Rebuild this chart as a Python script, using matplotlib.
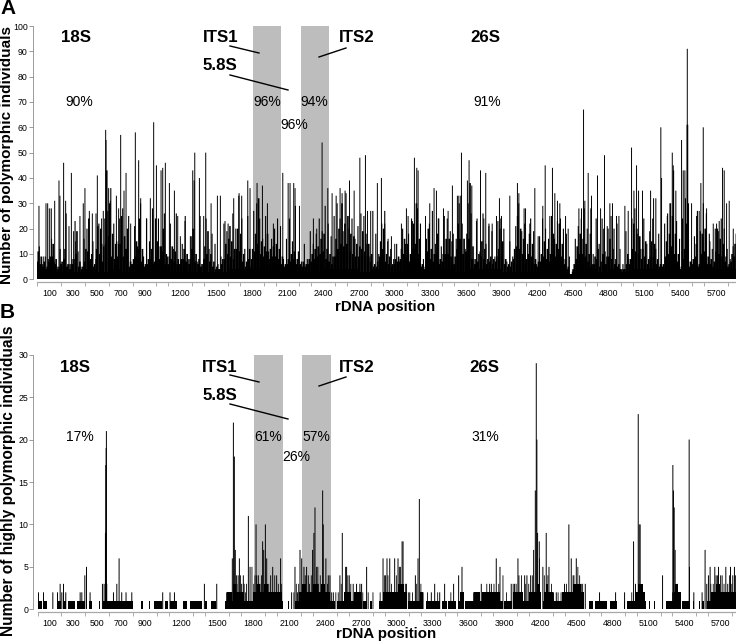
import matplotlib
matplotlib.use("Agg")
import matplotlib.pyplot as plt
import numpy as np
from matplotlib.lines import Line2D

plt.rcParams['font.family'] = ['Liberation Sans', 'DejaVu Sans']

W, H = 736, 643

# panel A : tall peaks
a_pos = [14,50,73,87,101,120,146,182,190,221,238,266,286,305,322,358,386,400,437,462,493,504,540,554,574,577,599,613,664,683,700,728,745,784,823,851,868,918,949,977,1000,1039,1053,1075,1109,1151,1179,1201,1240,1285,1305,1322,1361,1397,1414,1459,1512,1537,1576,1602,1618,1649,1694,1716,1767,1786,1845,1890,1932,1982,2061,2106,2122,2153,2164,2201,2318,2346,2391,2439,2475,2509,2542,2559,2584,2621,2660,2708,2755,2772,
         2799,2855,2889,2917,2945,2973,3001,3057,3099,3113,3149,3166,3186,3197,3259,3295,3331,3351,3371,3410,3449,3485,3527,3539,3561,3611,3625,3648,3687,3721,3749,3765,3791,3819,3855,3880,3897,3967,4031,4043,4087,4099,4135,4177,4205,4244,4264,4303,4325,4345,4367,4387,4435,4457,4547,4569,4586,4597,4625,4647,4653,4703,4729,4762,4785,4807,4829,4863,4883,4933,4961,4989,5009,5031,5048,5081,5149,5174,5193,5235,5241,5289,5311,5331,5339,5361,5409,5423,5437,5457,5459,5493,5535,5557,5571,5591,5619,5647,5675,5703,5725,5753,5767,5787,5809,5843]
a_val = [29,9,30,30,28,16,31,39,33,46,31,21,42,19,15,25,30,36,27,26,26,41,24,27,59,55,36,31,33,28,57,35,42,22,58,47,32,24,32,62,45,43,44,46,38,35,25,17,23,17,43,50,40,25,50,30,33,33,23,22,21,32,34,33,39,36,38,37,30,22,42,38,38,38,36,29,24,20,54,36,34,33,36,34,35,39,35,48,49,27,
         27,38,40,22,16,17,14,22,28,25,23,48,44,43,25,30,36,35,24,28,27,37,33,33,50,39,47,37,23,43,24,42,21,22,25,32,25,33,38,34,28,28,22,36,17,29,45,25,44,34,31,30,25,20,28,28,67,31,42,28,33,41,28,49,21,30,30,25,25,29,27,52,35,45,35,35,35,32,32,60,40,25,30,50,45,35,55,43,43,91,61,30,25,27,38,60,28,15,22,22,23,44,43,30,31,20]

# panel A : dense layers, one value per 25 positions
a_upper = [13,6,9,8,28,7,5,12,5,26,6,8,23,11,5,16,20,7,15,8,
           22,14,24,27,36,22,15,24,28,12,25,6,21,13,30,9,24,15,28,24,
           24,13,26,9,22,12,26,6,14,25,8,17,39,7,25,6,24,12,18,14,
           6,9,22,19,21,26,20,33,24,12,25,5,27,30,24,16,25,11,16,20,
           24,21,8,16,24,15,29,11,7,14,8,19,14,18,24,19,29,22,17,25,
           30,24,19,34,20,24,16,21,26,25,14,9,27,18,10,22,27,15,12,8,
           14,7,20,14,18,24,12,28,22,8,16,22,27,14,24,13,25,24,19,18,
           16,30,22,12,30,26,8,24,11,26,14,22,19,9,23,24,20,7,15,9,
           21,30,19,22,14,24,19,6,17,24,20,16,25,16,23,24,20,18,9,3,
           16,21,24,28,20,18,10,24,14,24,11,20,25,20,22,12,6,19,8,24,
           28,18,12,24,14,19,24,12,18,6,22,26,30,43,23,16,24,32,30,7,
           17,27,19,30,26,18,12,20,19,24,20,12,8,13,18]
a_mid = [11,9,7,5,9,14,8,5,7,12,6,6,8,19,7,5,12,24,10,6,
         21,20,13,43,30,18,14,14,25,17,20,7,8,15,24,12,6,8,12,7,
         15,13,20,10,9,13,11,8,8,12,10,8,20,10,8,6,13,19,10,7,
         5,4,8,14,16,15,12,20,18,10,7,12,12,18,32,15,13,18,12,13,
         14,12,9,6,8,10,11,8,6,7,6,8,10,12,13,16,18,12,10,9,
         16,20,30,22,25,18,17,14,13,19,18,14,10,6,7,15,20,10,9,6,
         8,9,12,16,14,10,22,30,16,6,5,20,12,10,18,8,10,16,16,15,
         9,22,33,16,18,38,13,8,10,15,12,8,9,8,9,20,15,8,6,7,
         12,25,20,16,8,18,14,8,7,10,15,12,10,18,14,22,14,8,5,1,
         6,13,18,16,14,10,6,9,12,7,20,9,16,12,8,6,4,4,10,8,
         22,20,17,12,15,8,15,14,8,6,6,15,18,25,18,10,5,12,61,7,
         8,14,6,18,20,9,8,7,20,16,14,9,6,10,14]
a_low = [7,6,5,4,7,9,6,4,6,8,5,4,6,10,5,4,7,11,8,5,
         12,10,7,14,17,9,8,9,14,9,12,5,6,9,12,7,5,6,8,6,
         9,8,11,6,6,8,7,6,6,8,7,6,12,7,6,5,8,10,7,5,
         4,4,6,8,10,9,8,12,11,7,5,8,8,11,14,10,9,11,8,9,
         9,8,6,5,6,7,8,6,5,5,5,6,7,8,9,10,11,8,7,6,
         9,12,14,13,14,11,10,9,9,12,11,9,7,5,5,9,12,7,6,5,
         6,7,8,10,9,7,12,14,10,5,4,11,8,7,10,6,7,10,10,9,
         6,12,16,10,11,16,8,6,7,9,8,6,7,6,7,12,9,6,5,5,
         8,13,12,10,6,10,9,6,5,7,9,8,7,10,9,12,9,6,4,2,
         4,8,10,10,9,7,5,6,8,5,10,6,9,8,6,5,3,4,6,6,
         12,11,10,8,9,6,9,9,6,5,5,9,10,13,10,7,4,8,22,5,
         6,9,5,10,11,6,6,5,11,10,9,7,5,7,9]
# panel A : solid floor, one value per 100 positions
a_floor = [4,3,3,3,4,3,4,3,3,3,4,3,3,3,3,3,4,4,4,4,4,3,3,3,4,4,4,3,4,3,
           3,4,3,4,4,3,4,4,4,3,3,3,3,4,2,3,4,3,4,3,4,4,4,4,4,4,4,4,4]

# panel B : single peaks
b_pos = [8,50,128,167,189,203,217,236,356,370,395,409,439,542,556,567,570,573,575,578,634,662,681,703,739,787,1045,1106,1143,1393,1496,1579,1593,1607,1621,1626,1635,1643,1651,1662,1685,1704,1718,1760,1774,1824,1829,1843,1857,1879,1888,1902,1913,1946,1963,1996,2029,2121,2149,2171,2191,2205,2224,2246,2260,2296,2307,2316,2330,2344,2380,2385,2407,2427,2441,2469,2524,2544,2572,2580,2602,2635,2663,2691,2705,2747,
         2884,2898,2917,2940,2981,3009,3020,3043,3051,3079,3107,3154,3176,3187,3218,3287,3315,3357,3398,3473,3515,3543,3704,3774,3829,3860,3954,3982,4010,4018,4066,4085,4116,4141,4155,4163,4168,4174,4188,4218,4246,4269,4307,4330,4399,4435,4455,4477,4497,4538,4572,4691,4825,4900,4975,4991,5014,5022,5030,5044,5217,5303,5308,5314,5322,5339,5439,5442,5478,5547,5572,5586,5600,5614,5653,5664,5684,5714,5745,5761,5784,5803,5817]
b_val = [2,2,2,2,3,2,3,2,2,2,4,5,2,3,3,9,17,19,21,3,2,3,6,2,2,2,2,2,2,3,3,2,2,2,2,6,22,18,7,4,6,3,4,11,5,10,4,4,3,8,7,10,6,4,5,4,6,2,5,2,7,6,5,5,4,7,9,12,5,3,14,10,6,4,4,2,4,9,5,5,4,3,3,3,3,5,
         6,4,6,6,6,6,5,8,8,3,2,4,6,13,2,2,3,2,3,3,4,5,3,3,6,5,3,3,6,4,4,4,4,7,14,29,20,9,8,5,9,5,2,2,3,10,6,4,6,3,3,2,2,2,8,3,23,10,10,2,4,17,14,12,7,3,20,5,2,2,7,3,4,5,5,4,5,4,5,3,5,4,5]
# panel B : smaller peaks between the runs
b_small_pos = [1665,1675,1695,1725,1735,1745,1790,1805,1815,1870,1930,1980,2010,2035,2140,2160,2180,2235,2270,2285,2340,2360,2420,2455,2490,2510,2535,2590,2615,2650,2680,2715,2760,2800,2860,2905,2925,2955,2995,3030,3070,3095,3130,3165,3200,3255,3340,3450,3640,3660,3680,3720,3750,3790,3810,3850,3885,3915,3970,3995,4040,4075,4100,4130,4190,4230,4260,4290,4345,4370,4415,4470,4510,4525,4550,4960,5060,5300,5350,5620,5640,5675,5700,5730,5775,5795,5825]
b_small_val = [3,4,4,3,2,3,5,3,4,4,3,4,3,3,2,3,3,4,3,4,5,4,3,2,2,2,3,4,3,2,2,2,2,2,2,4,4,3,4,5,3,2,2,3,3,2,2,2,2,2,2,2,3,3,3,3,4,2,3,3,4,3,3,4,6,4,4,3,2,2,3,4,5,4,3,2,2,2,2,3,3,4,4,3,4,3,4]

# panel B : runs of positions at the same count
b_one_start = [0,49,126,165,215,254,332,432,488,516,543,821,860,933,972,1063,1105,1211,1277,1397,1452,1536,1563,2093,2121,2149,2496,2719,2774,2852,3094,3241,3372,3428,3511,3567,3897,3938,3966,4055,4216,4544,4600,4655,4780,4867,4897,4917,5106,5147,5184,5217,5245,5378,5473,5495,5523,5545,5584]
b_one_end = [35,82,130,193,238,313,396,457,492,520,799,825,877,937,1035,1091,1161,1244,1369,1417,1494,1540,2046,2097,2125,2483,2705,2747,2788,3080,3219,3358,3414,3497,3553,3888,3933,3960,4035,4202,4536,4555,4633,4750,4833,4871,4901,5078,5110,5151,5188,5221,5342,5434,5477,5499,5527,5565,5830]
b_two_start = [1580,1640,1800,2180,2560,2640,2880,3190,3530,3640,3710,3970,4100,4230,4380,4990,5310,5620]
b_two_end = [1620,1720,2040,2440,2620,2700,3080,3220,3560,3690,3860,4050,4200,4300,4560,5070,5370,5830]
b_three_start = [1630,1830,1890,2210,2300,2370,3010,4170,4240,4470,5010,5320,5660]
b_three_end = [1660,1860,1920,2240,2340,2400,3060,4190,4260,4540,5050,5350,5700]

labels_x = [100,300,500,700,900,1200,1500,1800,2100,2400,2700,3000,3300,3600,3900,4200,4500,4800,5100,5400,5700]
its1_band = (1810, 2048)
its2_band = (2210, 2448)


def setup(ax, ymax, ystep, xmax):
    ax.set_xlim(0, xmax)
    ax.set_ylim(0, ymax)
    for s in ['top', 'right']:
        ax.spines[s].set_visible(False)
    ax.spines['left'].set_position(('outward', 3))
    ax.spines['bottom'].set_position(('outward', 2.2))
    ax.spines['left'].set_color('#8a8a8a')
    ax.spines['bottom'].set_color('#a8a8a8')
    ax.spines['left'].set_linewidth(0.6)
    ax.spines['bottom'].set_linewidth(0.9)
    ax.set_yticks(np.arange(0, ymax + 1, ystep))
    ax.tick_params(axis='y', length=3, width=0.6, color='#8a8a8a', labelsize=6.3, pad=0.8)
    ax.set_xticks(labels_x)
    ax.set_xticks([t for t in range(0, 5900, 100) if t not in labels_x and t <= xmax], minor=True)
    ax.tick_params(axis='x', which='major', length=0, labelsize=6.3, pad=5)
    ax.tick_params(axis='x', which='minor', length=3.2, width=0.6, color='#a0a0a0')
    ax.axvspan(its1_band[0], its1_band[1], color='#bdbdbd', lw=0, zorder=0)
    ax.axvspan(its2_band[0], its2_band[1], color='#bdbdbd', lw=0, zorder=0)
    ax.patch.set_alpha(0)


def thin(ax, x, y, lw):
    c = ax.vlines(x, 0, y, colors='black', linewidth=lw, zorder=3)
    c.set_snap(False)


def ptext(x, y, s, size, bold=False, ha='left', rot=0):
    fig.text(x / W, 1 - y / H, s, fontsize=size, fontweight='bold' if bold else 'normal',
             ha=ha, va='center', rotation=rot)


def pline(x0, y0, x1, y1):
    fig.add_artist(Line2D([x0 / W, x1 / W], [1 - y0 / H, 1 - y1 / H], color='black', lw=1.0))


fig = plt.figure(figsize=(W / 100, H / 100), dpi=100)

# A
ax1 = fig.add_axes([37.3 / W, 1 - 279.3 / H, 698.7 / W, 253.3 / H])
setup(ax1, 100, 10, 5866)
ax1.bar(np.arange(len(a_floor)) * 100, a_floor, width=100, align='edge', color='black', lw=0, zorder=3)
thin(ax1, np.arange(len(a_low)) * 25, a_low, 1.5)
thin(ax1, np.arange(len(a_mid)) * 25 + 8, a_mid, 1.2)
thin(ax1, np.arange(len(a_upper)) * 25 + 17, a_upper, 0.8)
thin(ax1, a_pos, a_val, 0.7)

# B
ax2 = fig.add_axes([37.5 / W, 1 - 609.3 / H, 698.5 / W, 254.6 / H])
setup(ax2, 30, 5, 5830)
for st, en, v in [(b_one_start, b_one_end, 1), (b_two_start, b_two_end, 2), (b_three_start, b_three_end, 3)]:
    for s, e in zip(st, en):
        ax2.bar(s, v, width=e - s, align='edge', color='black', lw=0, zorder=3)
thin(ax2, b_small_pos, b_small_val, 0.6)
thin(ax2, b_pos, b_val, 0.7)

# panel letters and axis titles
ptext(0, 9, 'A', 15, True)
ptext(0, 312, 'B', 15, True)
ptext(7.5, 155, 'Number of polymorphic individuals', 11.0, True, ha='center', rot=90)
ptext(9, 481, 'Number of highly polymorphic individuals', 11.2, True, ha='center', rot=90)
ptext(385.5, 307, 'rDNA position', 10.8, True, ha='center')
ptext(386, 634, 'rDNA position', 10.8, True, ha='center')

# region labels A
ptext(60.5, 38, '18S', 12.2, True)
ptext(203, 38, 'ITS1', 12.2, True)
ptext(339, 38, 'ITS2', 12.2, True)
ptext(470, 38, '26S', 12.2, True)
ptext(203, 66, '5.8S', 12.2, True)
ptext(65, 102, '90%', 10)
ptext(253, 102, '96%', 10)
ptext(300, 102, '94%', 10)
ptext(280, 125, '96%', 10)
ptext(473, 102, '91%', 10)
pline(230, 46, 259, 53)
pline(346, 48, 319, 57)
pline(230, 75, 288, 90)

# region labels B
ptext(60, 367.5, '18S', 12.2, True)
ptext(202, 367.5, 'ITS1', 12.2, True)
ptext(339, 367.5, 'ITS2', 12.2, True)
ptext(469, 367.5, '26S', 12.2, True)
ptext(203, 396, '5.8S', 12.2, True)
ptext(66, 437, '17%', 10)
ptext(254, 437, '61%', 10)
ptext(302, 437, '57%', 10)
ptext(282, 457, '26%', 10)
ptext(471, 437, '31%', 10)
pline(230, 375, 259, 382)
pline(346, 377, 319, 386)
pline(230, 404, 288, 419)

fig.savefig('out.png', dpi=100)
